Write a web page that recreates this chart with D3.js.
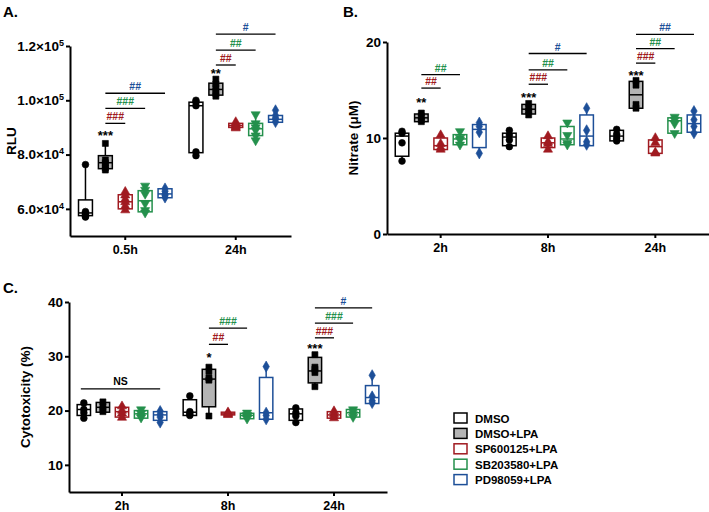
<!DOCTYPE html>
<html><head><meta charset="utf-8">
<script src="https://cdn.jsdelivr.net/npm/d3@7"></script>
<style>
body{margin:0;background:#fff}
text{font-family:"Liberation Sans",Arial,Helvetica,sans-serif;font-weight:bold}
</style>
</head><body>
<svg id="chart" width="709" height="512"></svg>
<script>
// ---------- shared series ----------
const seriesNames = ["DMSO","DMSO+LPA","SP600125+LPA","SB203580+LPA","PD98059+LPA"];
const seriesColors = ["#000000","#000000","#a01a20","#24904c","#1d4f98"];
const seriesFills = ["#ffffff","#b4b4b4","#ffffff","#ffffff","#ffffff"];
const seriesSymbols = ["circle","square","triangle","triangleDown","diamond"];

// ---------- Panel A: RLU ----------
const rluCategories = ["0.5h","24h"];
const rluTicks = [60000,80000,100000,120000];
const rluTickLabels = [["6.0×10","4"],["8.0×10","4"],["1.0×10","5"],["1.2×10","5"]];
// [min, q1, median, q3, max]
const rluBoxes = [
  [[57000,57500,58500,63300,76300],[74100,74800,77000,79600,84100],[59300,60000,62600,65200,66300],[58500,58900,63000,66700,68500],[64000,64100,65500,67400,67600]],
  [[79600,80700,98000,99300,100000],[101100,101900,104000,106300,107800],[89700,90000,90700,91500,92000],[85200,87000,89500,91500,94800],[91900,91900,93000,94400,96300]]
];
const rluPoints = [
  [[76300,59000,58300,57800,57300,57000],[84100,78000,77000,76200,75000,74300],[66300,65000,63500,62500,61000,59500],[68500,67000,65500,62000,59500,58600],[67500,66500,65500,65000,64200]],
  [[100000,99300,98000,81000,79600],[107800,106000,104800,103500,102500,101500],[92000,91300,90800,90500,90000,89700],[94800,91500,90000,89000,87000,85200],[96300,94400,93500,93000,92000]]
];
// [category, text, value]
const rluStars = [["0.5h","***",87800],["24h","**",110700]];
// [category, from series, to series, value, text]
const rluBars = [
  ["0.5h",1,2,91500,"###"],["0.5h",1,3,97000,"###"],["0.5h",1,4,102600,"##"],
  ["24h",1,2,113000,"##"],["24h",1,3,118500,"##"],["24h",1,4,124400,"#"]
];

// ---------- Panel B: Nitrate ----------
const nitCategories = ["2h","8h","24h"];
const nitTicks = [0,10,20];
const nitTickLabels = [["0",""],["10",""],["20",""]];
const nitBoxes = [
  [[7.6,8.1,10.2,10.5,10.7],[11.6,11.7,12.1,12.5,12.6],[8.7,8.8,9.2,10.0,10.3],[9.2,9.3,9.9,10.35,10.7],[8.4,9.0,10.9,11.4,11.6]],
  [[9.0,9.2,10.1,10.5,10.8],[12.3,12.5,13.0,13.5,13.6],[8.7,9.0,9.5,10.0,10.2],[9.2,9.3,9.9,11.2,11.7],[9.2,9.2,10.2,12.4,13.1]],
  [[9.5,9.7,10.2,10.8,10.9],[13.0,13.1,14.5,15.9,16.1],[8.3,8.4,9.1,9.8,10.1],[10.3,10.5,11.8,12.1,12.2],[10.4,10.6,11.5,12.4,12.8]]
];
const nitPoints = [
  [[10.7,10.5,9.5,7.6],[12.6,12.3,11.9,11.7],[10.3,9.4,9.0,8.8],[10.7,10.0,9.8,9.3],[11.6,11.2,10.6,8.4]],
  [[10.8,10.3,9.8,9.1],[13.6,13.1,12.8,12.4],[10.2,9.6,9.4,8.8],[11.6,10.3,9.5,9.3],[13.1,10.8,9.6,9.3]],
  [[10.9,10.4,10.0,9.7],[16.0,15.5,13.5,13.1],[10.0,9.5,8.5,8.4],[12.2,11.9,11.5,10.5],[12.8,11.9,11.2,10.5]]
];
const nitStars = [["2h","**",14.0],["8h","***",14.5],["24h","***",16.8]];
const nitBars = [
  ["2h",1,2,15.2,"##"],["2h",1,3,16.6,"##"],
  ["8h",1,2,15.6,"###"],["8h",1,3,17.1,"##"],["8h",1,4,18.8,"#"],
  ["24h",1,2,17.8,"###"],["24h",1,3,19.3,"##"],["24h",1,4,20.8,"##"]
];

// ---------- Panel C: Cytotoxicity ----------
const cytCategories = ["2h","8h","24h"];
const cytTicks = [10,20,30,40];
const cytTickLabels = [["10",""],["20",""],["30",""],["40",""]];
const cytBoxes = [
  [[18.5,19.1,20.2,21.1,21.6],[19.6,19.7,20.6,21.5,21.8],[18.5,18.8,19.8,20.6,20.9],[18.5,18.6,19.4,20.0,20.3],[17.7,18.2,19.2,19.8,20.0]],
  [[19.0,19.1,19.7,22.0,22.7],[19.0,20.7,25.8,27.6,28.2],[19.1,19.2,19.4,19.7,19.8],[18.3,18.5,19.1,19.5,19.7],[18.2,18.4,19.6,26.1,28.2]],
  [[17.6,18.2,19.4,20.3,20.7],[24.3,25.1,27.3,29.8,30.5],[18.4,18.6,19.2,19.8,20.0],[18.6,18.8,19.6,20.2,20.3],[21.3,21.3,22.4,24.6,26.6]]
];
const cytPoints = [
  [[21.4,20.2,19.6,18.6],[21.6,20.8,20.2,19.8],[20.8,20.0,19.5,18.7],[20.2,19.5,19.0,18.7],[19.9,19.3,18.8,17.8]],
  [[22.7,19.8,19.4,19.1],[28.0,27.2,26.0,25.6,19.0],[19.7,19.5,19.3,19.2],[19.6,19.2,18.9,18.5],[28.1,19.6,19.1,18.4]],
  [[20.5,19.6,19.0,17.8],[30.3,28.0,27.6,27.0,24.4],[19.9,19.4,19.0,18.6],[20.2,19.8,19.3,18.8],[26.5,22.6,21.8,21.4]]
];
const cytStars = [["8h","*",30.2],["24h","***",31.9]];
const cytBars = [
  ["2h",0,4,24.0,"NS"],
  ["8h",1,2,32.2,"##"],["8h",1,3,35.2,"###"],
  ["24h",1,2,33.4,"###"],["24h",1,3,36.1,"###"],["24h",1,4,38.9,"#"]
];

// ---------- drawing ----------
const svg = d3.select("#chart");
const symbolTypes = {circle:d3.symbolCircle,square:d3.symbolSquare,triangle:d3.symbolTriangle,triangleDown:d3.symbolTriangle,diamond:d3.symbolDiamond};

function drawPanel(p){
  const g = svg.append("g");
  const x = d3.scaleBand().domain(p.categories).range([p.left,p.right]);
  const bw = x.bandwidth();
  const sub = d3.scalePoint().domain(d3.range(seriesNames.length)).range([-0.45*bw,0.45*bw]).padding(0.5);
  const boxW = sub.step()*0.7;
  const y = d3.scaleLinear().domain(p.domain).range([p.bottom,p.top]);
  const cx = (cat,si)=>x(cat)+bw/2+sub(si);

  // axes
  const xa = g.append("g").attr("transform",`translate(0,${p.bottom})`)
    .call(d3.axisBottom(x).tickSize(4).tickSizeOuter(0).tickPadding(5));
  const ya = g.append("g").attr("transform",`translate(${p.left},0)`)
    .call(d3.axisLeft(y).tickValues(p.ticks).tickSize(4).tickSizeOuter(0).tickPadding(2).tickFormat(()=>""));
  [xa,ya].forEach(a=>{
    a.selectAll("path,line").attr("stroke","#000").attr("stroke-width",2);
    a.selectAll("text").attr("fill","#000").attr("font-family",null);
  });
  xa.selectAll("text").attr("font-size",12.5);
  ya.selectAll("text").attr("font-size",13.5);
  ya.selectAll(".tick text").each(function(d,i){
    const t = d3.select(this);
    const lab = p.tickLabels[i];
    t.append("tspan").text(lab[0]);
    if(lab[1]) t.append("tspan").attr("dy",-5).attr("font-size",9).text(lab[1]);
  });

  // boxes
  p.categories.forEach((cat,ci)=>{
    seriesNames.forEach((s,si)=>{
      const st = p.boxes[ci][si];
      const c = cx(cat,si);
      const col = seriesColors[si];
      g.append("line").attr("x1",c).attr("x2",c).attr("y1",y(st[0])).attr("y2",y(st[4]))
        .attr("stroke",col).attr("stroke-width",1.5);
      g.append("rect").attr("x",c-boxW/2).attr("width",boxW)
        .attr("y",y(st[3])).attr("height",Math.max(1,y(st[1])-y(st[3])))
        .attr("fill",seriesFills[si]).attr("stroke",col).attr("stroke-width",1.5);
      g.append("line").attr("x1",c-boxW/2).attr("x2",c+boxW/2).attr("y1",y(st[2])).attr("y2",y(st[2]))
        .attr("stroke",col).attr("stroke-width",1.5);
      const sym = d3.symbol().type(symbolTypes[seriesSymbols[si]]).size(36);
      p.points[ci][si].forEach(v=>{
        g.append("path").attr("d",sym())
          .attr("transform",`translate(${c},${y(v)})`+(seriesSymbols[si]==="triangleDown"?" rotate(180)":""))
          .attr("fill",col).attr("stroke",col).attr("stroke-width",0.6);
      });
    });
  });

  // stars
  p.stars.forEach(([cat,txt,v])=>{
    g.append("text").attr("x",cx(cat,1)).attr("y",y(v)+7).attr("text-anchor","middle")
      .attr("font-size",13).attr("fill","#000").text(txt);
  });
  // comparison bars
  p.bars.forEach(([cat,from,to,v,txt])=>{
    const x1 = cx(cat,from)-(txt==="NS"?3:0), x2 = cx(cat,to);
    g.append("line").attr("x1",x1).attr("x2",x2).attr("y1",y(v)).attr("y2",y(v))
      .attr("stroke","#000").attr("stroke-width",1.3);
    g.append("text").attr("x",(x1+x2)/2).attr("y",y(v)-(txt==="NS"?4:3)).attr("text-anchor","middle")
      .attr("font-size",10.5).attr("fill",txt==="NS"?"#000":seriesColors[to]).text(txt);
  });

  // labels
  svg.append("text").attr("x",p.titleX).attr("y",p.titleY).attr("font-size",15).attr("fill","#000").text(p.title);
  svg.append("text").attr("transform",`translate(${p.ylabX},${(p.top+p.bottom)/2}) rotate(-90)`)
    .attr("text-anchor","middle").attr("dy","0.35em").attr("font-size",13.5).attr("fill","#000").text(p.ylabel);
}

drawPanel({categories:rluCategories,boxes:rluBoxes,points:rluPoints,stars:rluStars,bars:rluBars,
  ticks:rluTicks,tickLabels:rluTickLabels,domain:[50000,120000],
  left:70,right:291,top:46,bottom:236,title:"A.",titleX:3,titleY:17,ylabel:"RLU",ylabX:11});
drawPanel({categories:nitCategories,boxes:nitBoxes,points:nitPoints,stars:nitStars,bars:nitBars,
  ticks:nitTicks,tickLabels:nitTickLabels,domain:[0,20],
  left:387,right:709,top:42,bottom:234,title:"B.",titleX:343,titleY:17,ylabel:"Nitrate (μM)",ylabX:353});
drawPanel({categories:cytCategories,boxes:cytBoxes,points:cytPoints,stars:cytStars,bars:cytBars,
  ticks:cytTicks,tickLabels:cytTickLabels,domain:[5,40],
  left:69,right:387,top:302,bottom:492,title:"C.",titleX:3,titleY:293,ylabel:"Cytotoxicity (%)",ylabX:25});

// legend
const leg = svg.append("g").attr("transform","translate(454,413)");
seriesNames.forEach((s,i)=>{
  const r = leg.append("g").attr("transform",`translate(0,${i*15.4})`);
  r.append("rect").attr("width",13).attr("height",10).attr("fill",seriesFills[i])
    .attr("stroke",seriesColors[i]).attr("stroke-width",1.5);
  r.append("text").attr("x",21).attr("y",9.5).attr("font-size",11.5).attr("fill","#000").text(s);
});
</script>
</body></html>
